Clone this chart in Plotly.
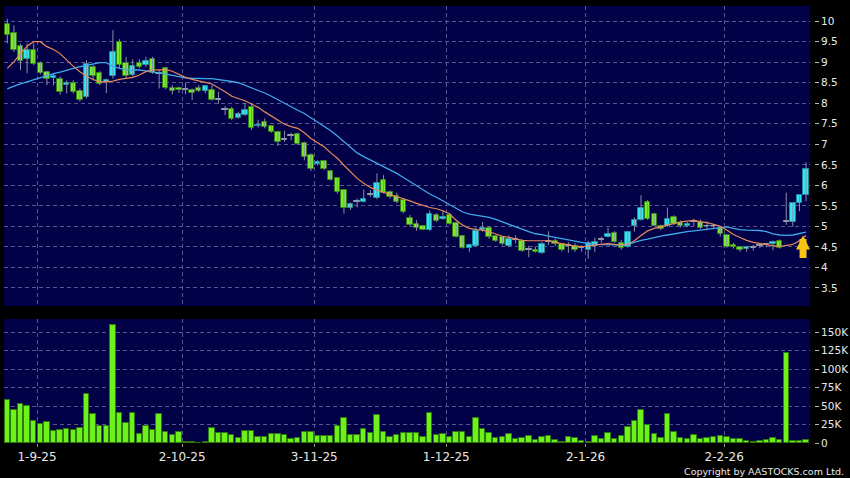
import plotly.graph_objects as go

# ---------------- data ----------------
opens = [9.93, 9.72, 9.40, 9.07, 9.29, 8.99, 8.75, 8.62, 8.60, 8.44,
         8.50, 8.30, 8.16, 8.89, 8.74, 8.52, 8.66, 9.50, 8.97, 8.69,
         8.97, 8.93, 9.07, 8.72, 8.85, 8.36, 8.38, 8.32, 8.32, 8.38,
         8.30, 8.32, 8.09, 7.83, 7.87, 7.65, 7.71, 7.91, 7.44, 7.55,
         7.44, 7.31, 7.10, 7.21, 7.25, 7.04, 6.74, 6.51, 6.60, 6.36,
         6.17, 5.88, 5.46, 5.59, 5.59, 5.76, 5.68, 6.14, 5.84, 5.74,
         5.64, 5.21, 5.07, 5.00, 4.91, 5.27, 5.18, 5.27, 5.09, 4.76,
         4.48, 4.51, 4.91, 4.97, 4.76, 4.73, 4.51, 4.68, 4.65, 4.43,
         4.43, 4.35, 4.62, 4.65, 4.56, 4.52, 4.52, 4.48, 4.42, 4.51,
         4.68, 4.74, 4.84, 4.60, 4.50, 5.00, 5.16, 5.59, 5.31, 5.02,
         5.01, 5.23, 5.08, 5.00, 5.11, 5.11, 5.00, 5.00, 4.97, 4.78,
         4.55, 4.50, 4.46, 4.47, 4.52, 4.54, 4.56, 4.65, 5.11, 5.11,
         5.56, 5.76]
highs = [10.06, 9.90, 9.45, 9.46, 9.46, 9.02, 8.79, 8.74, 8.65, 8.56,
         8.56, 8.36, 9.05, 8.93, 8.78, 8.60, 9.78, 9.56, 9.13, 9.07,
         9.07, 9.13, 9.13, 8.81, 8.89, 8.44, 8.41, 8.50, 8.36, 8.44,
         8.44, 8.44, 8.28, 7.93, 7.91, 7.79, 8.01, 7.99, 7.60, 7.63,
         7.46, 7.33, 7.33, 7.28, 7.28, 7.06, 6.78, 6.61, 6.61, 6.37,
         6.19, 5.90, 5.58, 5.68, 5.90, 5.88, 6.29, 6.25, 5.88, 5.82,
         5.68, 5.28, 5.15, 5.03, 5.39, 5.32, 5.39, 5.33, 5.12, 4.79,
         4.58, 4.98, 5.11, 5.00, 4.78, 4.76, 4.78, 4.78, 4.69, 4.53,
         4.51, 4.62, 4.88, 4.71, 4.59, 4.62, 4.59, 4.54, 4.65, 4.73,
         4.75, 4.97, 4.89, 4.67, 4.89, 5.22, 5.76, 5.64, 5.33, 5.04,
         5.46, 5.27, 5.14, 5.11, 5.17, 5.17, 5.12, 5.06, 5.00, 4.80,
         4.60, 4.52, 4.52, 4.55, 4.57, 4.60, 4.65, 4.68, 5.82, 5.57,
         5.76, 6.56]
lows = [9.46, 9.25, 8.81, 8.73, 8.93, 8.71, 8.44, 8.44, 8.21, 8.24,
        8.24, 8.04, 8.12, 8.56, 8.44, 8.25, 8.60, 8.85, 8.60, 8.66,
        8.85, 8.89, 8.72, 8.36, 8.34, 8.22, 8.25, 8.22, 8.08, 8.27,
        8.25, 8.06, 7.99, 7.71, 7.59, 7.63, 7.69, 7.35, 7.41, 7.39,
        7.28, 6.96, 7.06, 7.10, 6.98, 6.61, 6.35, 6.48, 6.37, 6.12,
        5.80, 5.31, 5.40, 5.46, 5.58, 5.72, 5.66, 5.80, 5.68, 5.56,
        5.32, 5.00, 4.89, 4.91, 4.89, 5.11, 5.16, 5.04, 4.73, 4.46,
        4.38, 4.50, 4.87, 4.70, 4.62, 4.54, 4.49, 4.59, 4.38, 4.25,
        4.36, 4.33, 4.54, 4.52, 4.39, 4.36, 4.38, 4.38, 4.21, 4.38,
        4.60, 4.73, 4.60, 4.43, 4.48, 4.87, 5.14, 5.16, 5.00, 4.91,
        4.99, 5.03, 4.97, 4.98, 5.01, 4.94, 4.94, 4.94, 4.75, 4.48,
        4.46, 4.38, 4.38, 4.41, 4.47, 4.49, 4.42, 4.46, 5.04, 4.99,
        5.37, 5.61]
closes = [9.66, 9.29, 9.02, 9.29, 8.95, 8.73, 8.58, 8.66, 8.28, 8.49,
          8.28, 8.08, 8.95, 8.66, 8.46, 8.56, 9.25, 8.93, 8.66, 8.91,
          8.89, 9.03, 8.74, 8.72, 8.36, 8.31, 8.32, 8.32, 8.24, 8.30,
          8.43, 8.09, 8.09, 7.83, 7.61, 7.73, 7.83, 7.39, 7.48, 7.43,
          7.31, 7.06, 7.10, 7.21, 7.00, 6.68, 6.41, 6.57, 6.39, 6.14,
          5.84, 5.46, 5.54, 5.59, 5.66, 5.76, 6.06, 5.82, 5.72, 5.59,
          5.36, 5.03, 4.95, 4.92, 5.29, 5.13, 5.23, 5.05, 4.74, 4.48,
          4.54, 4.88, 4.97, 4.74, 4.65, 4.56, 4.70, 4.68, 4.40, 4.43,
          4.37, 4.58, 4.62, 4.56, 4.43, 4.52, 4.42, 4.48, 4.60, 4.63,
          4.68, 4.81, 4.62, 4.47, 4.86, 5.16, 5.46, 5.18, 5.02, 4.94,
          5.19, 5.05, 5.00, 5.07, 5.11, 4.96, 5.00, 5.00, 4.81, 4.50,
          4.50, 4.42, 4.49, 4.47, 4.52, 4.54, 4.62, 4.48, 5.11, 5.56,
          5.76, 6.39]
volumes_k = [58.8, 44.3, 52.9, 50.2, 30.3, 26.2, 28.5, 15.8, 18.1, 19.0,
             17.6, 20.8, 66.0, 38.9, 23.1, 23.1, 160.5, 41.1, 26.7, 41.1,
             12.7, 23.5, 17.2, 38.9, 14.9, 11.3, 14.5, 1.4, 1.4, 0.5,
             0.9, 19.9, 14.0, 13.6, 11.3, 6.8, 16.7, 16.7, 8.1, 8.6,
             12.2, 12.7, 11.3, 5.9, 7.2, 15.4, 15.4, 9.9, 9.0, 9.9,
             23.1, 33.4, 10.4, 10.4, 19.0, 13.1, 38.4, 14.5, 8.6, 10.4,
             13.6, 13.1, 14.0, 8.1, 40.2, 10.4, 12.7, 8.1, 14.5, 14.5,
             7.7, 33.9, 19.4, 14.0, 6.8, 8.1, 12.7, 5.4, 7.2, 9.5,
             4.5, 8.1, 9.5, 4.5, 1.4, 7.7, 6.3, 2.7, 1.0, 9.9,
             5.9, 13.1, 5.9, 9.0, 21.2, 30.3, 45.2, 24.9, 12.7, 6.3,
             39.3, 14.9, 6.3, 5.0, 10.4, 5.9, 7.2, 8.6, 9.9, 8.6,
             5.9, 5.9, 3.2, 1.4, 2.3, 4.1, 6.3, 3.6, 122.0, 2.3,
             2.7, 3.6]
ma_short = [8.85, 9.01, 9.21, 9.39, 9.50, 9.50, 9.38, 9.31, 9.21, 9.05,
            8.90, 8.77, 8.66, 8.58, 8.52, 8.52, 8.54, 8.58, 8.60, 8.63,
            8.69, 8.77, 8.81, 8.82, 8.82, 8.78, 8.71, 8.63, 8.58, 8.55,
            8.51, 8.47, 8.38, 8.28, 8.17, 8.12, 8.06, 7.98, 7.90, 7.79,
            7.69, 7.57, 7.49, 7.43, 7.39, 7.28, 7.14, 7.04, 6.94, 6.79,
            6.66, 6.49, 6.33, 6.17, 6.05, 5.95, 5.88, 5.83, 5.78, 5.72,
            5.67, 5.62, 5.56, 5.51, 5.46, 5.43, 5.38, 5.30, 5.15, 5.03,
            4.95, 4.92, 4.91, 4.87, 4.81, 4.76, 4.73, 4.69, 4.66, 4.65,
            4.65, 4.65, 4.65, 4.61, 4.58, 4.56, 4.52, 4.51, 4.51, 4.55,
            4.56, 4.58, 4.56, 4.55, 4.56, 4.65, 4.78, 4.89, 4.95, 4.99,
            5.03, 5.07, 5.11, 5.13, 5.15, 5.11, 5.09, 5.05, 5.00, 4.91,
            4.80, 4.73, 4.66, 4.61, 4.58, 4.55, 4.53, 4.51, 4.53, 4.56,
            4.65, 4.78]
ma_long = [8.35, 8.42, 8.47, 8.52, 8.58, 8.63, 8.68, 8.72, 8.76, 8.81,
           8.85, 8.89, 8.92, 8.95, 8.99, 8.99, 8.90, 8.85, 8.82, 8.81,
           8.81, 8.79, 8.77, 8.74, 8.71, 8.68, 8.64, 8.62, 8.61, 8.60,
           8.60, 8.60, 8.58, 8.56, 8.53, 8.50, 8.44, 8.38, 8.32, 8.25,
           8.17, 8.08, 8.00, 7.91, 7.83, 7.75, 7.65, 7.55, 7.44, 7.33,
           7.20, 7.06, 6.92, 6.79, 6.70, 6.62, 6.55, 6.47, 6.39, 6.29,
           6.19, 6.09, 5.98, 5.87, 5.79, 5.71, 5.62, 5.54, 5.44, 5.35,
           5.30, 5.27, 5.25, 5.22, 5.17, 5.11, 5.05, 4.99, 4.92, 4.87,
           4.82, 4.80, 4.76, 4.73, 4.69, 4.66, 4.63, 4.60, 4.58, 4.56,
           4.56, 4.56, 4.55, 4.54, 4.56, 4.61, 4.66, 4.69, 4.73, 4.76,
           4.79, 4.82, 4.85, 4.87, 4.89, 4.91, 4.93, 4.95, 4.97, 4.99,
           4.95, 4.92, 4.91, 4.91, 4.90, 4.87, 4.82, 4.79, 4.78, 4.79,
           4.82, 4.86]
date_tick_pos = [4.5, 26.5, 46.5, 66.5, 87.6, 108.6]
date_tick_text = ["1-9-25", "2-10-25", "3-11-25", "1-12-25", "2-1-26", "2-2-26"]
price_ticks = [3.5, 4, 4.5, 5, 5.5, 6, 6.5, 7, 7.5, 8, 8.5, 9, 9.5, 10]
price_tick_text = ["3.5", "4", "4.5", "5", "5.5", "6", "6.5", "7", "7.5", "8", "8.5", "9", "9.5", "10"]
vol_ticks = [0, 25, 50, 75, 100, 125, 150]
vol_tick_text = ["0", "25K", "50K", "75K", "100K", "125K", "150K"]

# ---------------- styling ----------------
W, H = 850, 478
BG = "#000000"
PLOT_BG = "#020046"
GRID = "#56568e"
GREEN = "#78ec28"
GREEN_EDGE = "#2f7d12"
CYAN = "#2ee6f6"
CYAN_EDGE = "#1a8c9c"
DOJI = "#9a9cb0"
WICK = "#8a8fa8"
ORANGE = "#e8895a"
BLUE = "#3fa9ea"
TXT = "#e8e8e8"
FONT = "DejaVu Sans"

n = len(closes)
idx = list(range(n))

wx, wy = [], []
for i in idx:
    wx += [i, i, None]
    wy += [lows[i], highs[i], None]

body_base, body_h, body_fill, body_edge = [], [], [], []
for o, c in zip(opens, closes):
    body_base.append(min(o, c))
    body_h.append(max(abs(c - o), 0.02))
    if c > o:
        body_fill.append(CYAN); body_edge.append(CYAN_EDGE)
    elif c < o:
        body_fill.append(GREEN); body_edge.append(GREEN_EDGE)
    else:
        body_fill.append(DOJI); body_edge.append(DOJI)

fig = go.Figure()
fig.add_trace(go.Scatter(x=wx, y=wy, mode="lines", line=dict(color=WICK, width=1),
                         xaxis="x", yaxis="y", hoverinfo="skip", showlegend=False))
fig.add_trace(go.Bar(x=idx, y=body_h, base=body_base, width=0.82,
                     marker=dict(color=body_fill, line=dict(color=body_edge, width=1)),
                     xaxis="x", yaxis="y", showlegend=False))
fig.add_trace(go.Scatter(x=idx, y=ma_long, mode="lines", line=dict(color=BLUE, width=1.3),
                         xaxis="x", yaxis="y", showlegend=False))
fig.add_trace(go.Scatter(x=idx, y=ma_short, mode="lines", line=dict(color=ORANGE, width=1.2),
                         xaxis="x", yaxis="y", showlegend=False))
fig.add_trace(go.Bar(x=idx, y=volumes_k, width=0.82,
                     marker=dict(color="#6cf21a", line=dict(color="#2e7a10", width=1)),
                     xaxis="x2", yaxis="y2", showlegend=False))

xdom = [4 / W, 810 / W]
price_dom = [1 - 306 / H, 1 - 6 / H]
vol_dom = [1 - 443 / H, 1 - 319 / H]
xrange = [-0.5, 121.6]

common_x = dict(domain=xdom, range=xrange, tickvals=date_tick_pos, showgrid=True,
                gridcolor=GRID, griddash="4px,3px", gridwidth=1, zeroline=False,
                showline=False, fixedrange=True, automargin=False)

fig.update_layout(
    width=W, height=H, autosize=False,
    margin=dict(l=0, r=0, t=0, b=0, pad=0),
    paper_bgcolor=BG, plot_bgcolor=PLOT_BG,
    showlegend=False, bargap=0, hovermode=False,
    xaxis=dict(**common_x, anchor="y", showticklabels=False, ticks=""),
    xaxis2=dict(**common_x, anchor="y2", matches="x", ticktext=date_tick_text,
                showticklabels=True, ticks="outside", ticklen=3, tickcolor="#9a9a9a",
                tickfont=dict(family=FONT, size=12, color=TXT)),
    yaxis=dict(domain=price_dom, range=[3.06, 10.37], side="right", anchor="free",
               position=814 / W, tickvals=price_ticks, ticktext=price_tick_text,
               ticks="outside", ticklen=4, tickcolor="#bbbbbb",
               tickfont=dict(family=FONT, size=10.5, color=TXT),
               showgrid=True, gridcolor=GRID, griddash="4px,3px", zeroline=False,
               showline=False, fixedrange=True, automargin=False),
    yaxis2=dict(domain=vol_dom, range=[0, 168], side="right", anchor="free",
                position=814 / W, tickvals=vol_ticks, ticktext=vol_tick_text,
                ticks="outside", ticklen=4, tickcolor="#bbbbbb",
                tickfont=dict(family=FONT, size=10.5, color=TXT),
                showgrid=True, gridcolor=GRID, griddash="4px,3px", zeroline=False,
                showline=False, fixedrange=True, automargin=False),
)

for dom in (price_dom, vol_dom):
    fig.add_shape(type="rect", xref="paper", yref="paper", x0=xdom[0], x1=xdom[1],
                  y0=dom[0], y1=dom[1], fillcolor=PLOT_BG, line=dict(width=0), layer="below")

# yellow arrow marker at the latest session
fig.add_annotation(x=idx[-1], y=ma_short[-1], xref="x", yref="y", xshift=-3,
                   showarrow=True, ax=0, ay=24, axref="pixel", ayref="pixel",
                   arrowhead=2, arrowsize=0.4, arrowwidth=7, arrowcolor="#f6c414", text="")

fig.add_annotation(x=846 / W, y=1 - 471 / H, xref="paper", yref="paper",
                   xanchor="right", yanchor="middle", showarrow=False,
                   text="Copyright by AASTOCKS.com Ltd.",
                   font=dict(family=FONT, size=9.5, color=TXT))

post = ("var s=document.documentElement.style, b=document.body.style;"
        "s.margin='0';s.padding='0';s.overflow='hidden';s.height='478px';"
        "b.margin='0';b.padding='0';b.overflow='hidden';b.height='478px';")
fig.write_html("out.html", config={"displayModeBar": False}, post_script=post)
